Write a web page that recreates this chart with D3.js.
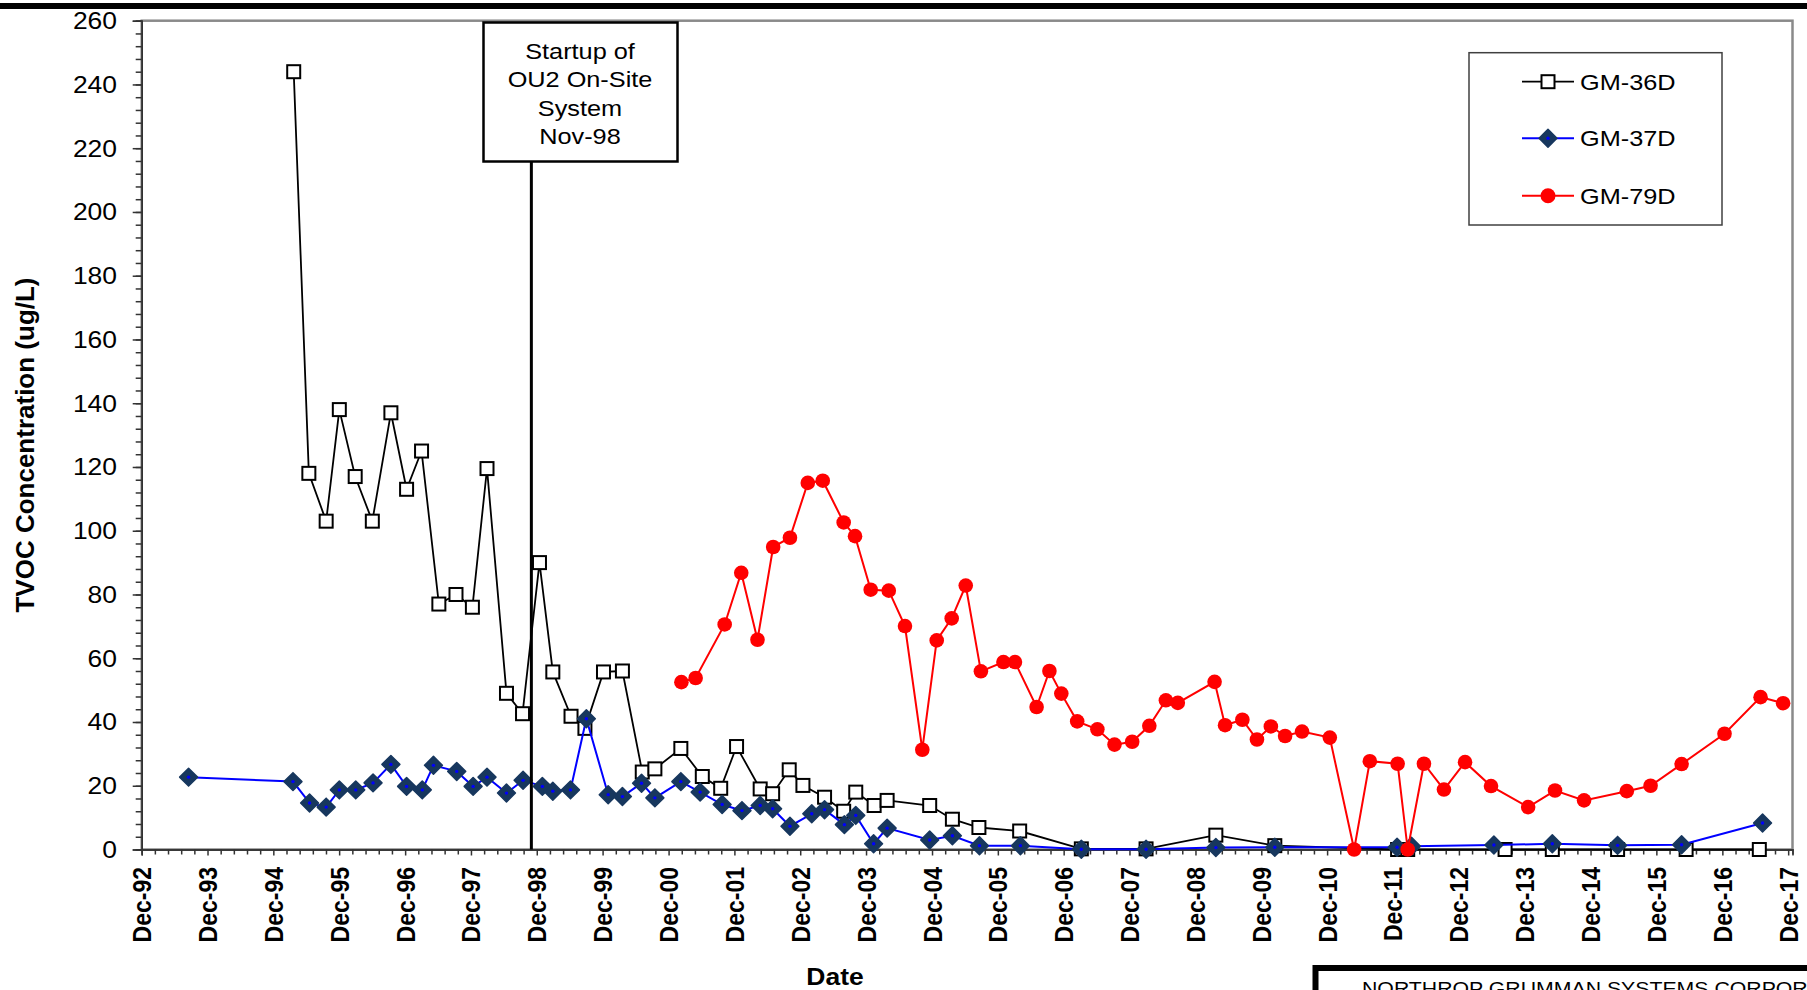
<!DOCTYPE html>
<meta charset="utf-8">
<head>
  <title>TVOC Concentration</title>
  <script src="https://d3js.org/d3.v7.min.js"></script>
  <style>
    body { margin: 0; background: #fff; }
    svg { display: block; font-family: "Liberation Sans", Arial, sans-serif; }
    .axis path, .axis line { stroke: #333; stroke-width: 1.5px; }
  </style>
</head>
<body>
<svg width="1807" height="990"></svg>
<script>
// sample dates / TVOC values (ug/L)
var gm36Dates = ["1995-03-24","1995-06-16","1995-09-20","1995-12-02","1996-02-28","1996-06-02","1996-09-13","1996-12-09",
  "1997-03-02","1997-06-06","1997-09-09","1997-12-09","1998-02-28","1998-06-16","1998-09-13","1998-12-16",
  "1999-02-28","1999-06-09","1999-08-25","1999-12-06","2000-03-20","2000-07-08","2000-09-16","2001-02-07",
  "2001-06-06","2001-09-16","2001-12-13","2002-04-23","2002-07-01","2002-10-01","2002-12-16","2003-04-15",
  "2003-07-30","2003-10-05","2004-01-15","2004-03-27","2004-11-18","2005-03-24","2005-08-18","2006-04-01",
  "2007-03-09","2008-03-02","2009-03-24","2010-02-14","2011-12-27","2012-02-21","2013-08-14","2014-05-03",
  "2015-04-30","2016-05-14","2017-06-24"];
var gm36Values = [244,118,103,138,117,103,137,113,125,77,80,76,119.5,49,42.6,90,55.7,41.8,38,55.7,56,24.3,25.3,31.7,
  22.9,19.2,32.3,19,17.5,25,20.1,16.4,12,18,13.8,15.4,13.8,9.5,6.9,5.8,0.2,0.2,4.5,1.2,0,0,0,0,0,0,0];

var gm37Dates = ["1993-08-18","1995-03-20","1995-06-20","1995-09-20","1995-12-02","1996-03-02","1996-06-06","1996-09-13",
  "1996-12-09","1997-03-06","1997-05-07","1997-09-13","1997-12-13","1998-02-28","1998-06-16","1998-09-16",
  "1999-01-01","1999-02-28","1999-06-06","1999-09-02","2000-01-01","2000-03-20","2000-07-04","2000-09-16",
  "2001-02-07","2001-05-25","2001-09-24","2002-01-12","2002-04-23","2002-07-01","2002-10-05","2003-02-03",
  "2003-04-15","2003-08-03","2003-10-05","2004-01-12","2004-03-27","2004-11-18","2005-03-24","2005-08-21",
  "2006-04-05","2007-03-09","2008-03-02","2009-03-24","2010-02-14","2011-12-24","2012-03-13","2013-06-13",
  "2014-05-03","2015-04-30","2016-04-19","2017-07-12"];
var gm37Values = [22.7,21.3,14.6,13.3,18.7,18.7,20.9,26.7,19.8,18.7,26.4,24.5,19.8,22.7,17.7,21.7,19.8,18.3,18.7,41,
  17.2,16.6,20.8,16.2,21.3,18,14.1,12.2,13.8,12.8,7.3,11.2,12.5,7.8,10.7,1.8,6.7,3,4.3,1.2,1.2,0.1,0.1,0.6,0.7,
  0.7,1,1.4,1.8,1.3,1.5,8.3];

var gm79Dates = ["2001-02-10","2001-04-30","2001-10-08","2002-01-08","2002-04-08","2002-07-04","2002-10-05","2003-01-12",
  "2003-04-05","2003-07-30","2003-10-01","2003-12-27","2004-04-05","2004-07-04","2004-10-08","2004-12-27",
  "2005-03-20","2005-06-06","2005-08-29","2006-01-01","2006-03-06","2006-07-04","2006-09-13","2006-11-18",
  "2007-02-14","2007-06-06","2007-09-09","2007-12-16","2008-03-20","2008-06-20","2008-08-25","2009-03-17",
  "2009-05-14","2009-08-18","2009-11-07","2010-01-23","2010-04-12","2010-07-15","2010-12-16","2011-04-30",
  "2011-07-26","2011-12-27","2012-02-21","2012-05-21","2012-09-09","2013-01-04","2013-05-28","2013-12-20",
  "2014-05-18","2014-10-26","2015-06-20","2015-10-30","2016-04-19","2016-12-13","2017-07-01","2017-11-03"];
var gm79Values = [52.5,53.8,70.6,86.8,65.8,94.9,97.8,115,115.7,102.6,98.3,81.5,81.2,70.1,31.3,65.6,72.5,82.8,55.9,
  58.8,58.8,44.7,56,48.9,40.2,37.7,32.9,33.8,38.8,46.8,46,52.6,39,40.7,34.5,38.6,35.6,37,35.1,0,27.7,26.9,0,
  26.9,18.8,27.4,19.9,13.3,18.5,15.4,18.3,20,26.8,36.3,47.8,45.9];

var seriesNames = ["GM-36D", "GM-37D", "GM-79D"];
var yTicks = d3.range(0, 261, 20);
var yMinorTicks = d3.range(0, 261, 4);
var tickYears = d3.range(1992, 2018);
var startupDate = "1998-11-01";
var startupLines = ["Startup of", "OU2 On-Site", "System", "Nov-98"];

var svg = d3.select("svg");
var plotL = 141.7, plotR = 1792.5, plotT = 20.7, plotB = 849.5;
var SX = 1.15; // text in the picture is a bit wider than tall

var parse = d3.timeParse("%Y-%m-%d");
var x = d3.scaleTime()
  .domain([new Date(1992, 11, 1), new Date(2017, 11, 25)])
  .range([plotL, plotR]);
var y = d3.scaleLinear().domain([0, 260]).range([plotB, plotT]);

var majorDates = tickYears.map(function(yr) { return new Date(yr, 11, 1); });
var minorDates = [];
majorDates.forEach(function(d, i) {
  if (i == majorDates.length - 1) return;
  var t0 = d.getTime(), t1 = majorDates[i + 1].getTime();
  for (var k = 1; k < 5; k++) minorDates.push(new Date(t0 + (t1 - t0) * k / 5));
});

function series(dates, values) {
  return dates.map(function(d, i) { return { date: parse(d), value: values[i] }; });
}
var s36 = series(gm36Dates, gm36Values),
    s37 = series(gm37Dates, gm37Values),
    s79 = series(gm79Dates, gm79Values);

// black strip across the top
svg.append("rect").attr("x", 0).attr("y", 3).attr("width", 1807).attr("height", 6).attr("fill", "#000");

// plot frame
svg.append("rect")
  .attr("x", plotL).attr("y", plotT)
  .attr("width", plotR - plotL).attr("height", plotB - plotT)
  .attr("fill", "#fff").attr("stroke", "#8a8a8a").attr("stroke-width", 2.5);

// axes
svg.append("g").attr("class", "axis")
  .attr("transform", "translate(" + plotL + ",0)")
  .call(d3.axisLeft(y).tickValues(yMinorTicks).tickSize(6).tickFormat(""));
svg.append("g").attr("class", "axis")
  .attr("transform", "translate(" + plotL + ",0)")
  .call(d3.axisLeft(y).tickValues(yTicks).tickSize(9).tickFormat(""));
svg.append("g").attr("class", "axis")
  .attr("transform", "translate(0," + plotB + ")")
  .call(d3.axisBottom(x).tickValues(minorDates).tickSize(5).tickFormat(""));
svg.append("g").attr("class", "axis")
  .attr("transform", "translate(0," + plotB + ")")
  .call(d3.axisBottom(x).tickValues(majorDates).tickSize(6).tickFormat(""));
svg.selectAll(".axis path").attr("stroke-width", 2);

svg.append("g").selectAll("text")
  .data(yTicks)
  .enter().append("text")
  .attr("transform", function(d) { return "translate(117," + y(d) + ") scale(" + SX + ",1)"; })
  .attr("text-anchor", "end")
  .attr("dy", "0.36em")
  .attr("font-size", 23)
  .text(function(d) { return d; });

var fmt = d3.timeFormat("%b-%y");
svg.append("g").selectAll("text")
  .data(majorDates)
  .enter().append("text")
  .attr("transform", function(d) { return "translate(" + x(d) + ",867) scale(" + SX + ",1) rotate(-90)"; })
  .attr("text-anchor", "end")
  .attr("dy", "0.36em")
  .attr("font-size", 23)
  .attr("font-weight", "bold")
  .text(fmt);

svg.append("text")
  .attr("transform", "translate(" + 835 + ",985) scale(" + SX + ",1)")
  .attr("text-anchor", "middle")
  .attr("font-size", 23).attr("font-weight", "bold")
  .text("Date");

svg.append("text")
  .attr("transform", "translate(25,445) rotate(-90)")
  .attr("text-anchor", "middle").attr("dy", "0.36em")
  .attr("font-size", 26).attr("font-weight", "bold")
  .text("TVOC Concentration (ug/L)");

var line = d3.line()
  .x(function(d) { return x(d.date); })
  .y(function(d) { return y(d.value); });

// GM-36D
svg.append("path").datum(s36).attr("d", line)
  .attr("fill", "none").attr("stroke", "#000").attr("stroke-width", 1.8);
svg.append("g").selectAll("rect")
  .data(s36)
  .enter().append("rect")
  .attr("x", function(d) { return x(d.date) - 6.5; })
  .attr("y", function(d) { return y(d.value) - 6.5; })
  .attr("width", 13).attr("height", 13)
  .attr("fill", "#fff").attr("stroke", "#000").attr("stroke-width", 2);

// GM-37D
var diamond = d3.symbol().type(d3.symbolSquare).size(160);
svg.append("path").datum(s37).attr("d", line)
  .attr("fill", "none").attr("stroke", "#0000ff").attr("stroke-width", 2);
var dg = svg.append("g").selectAll("g")
  .data(s37)
  .enter().append("g")
  .attr("transform", function(d) { return "translate(" + x(d.date) + "," + y(d.value) + ")"; });
dg.append("path").attr("d", diamond).attr("transform", "rotate(45)")
  .attr("fill", "#17375e").attr("stroke", "#17375e").attr("stroke-width", 1.5)
  .attr("stroke-linejoin", "round");
dg.append("circle").attr("r", 1.7).attr("fill", "#0000ff");

// GM-79D
svg.append("path").datum(s79).attr("d", line)
  .attr("fill", "none").attr("stroke", "#ff0000").attr("stroke-width", 2);
svg.append("g").selectAll("circle")
  .data(s79)
  .enter().append("circle")
  .attr("cx", function(d) { return x(d.date); })
  .attr("cy", function(d) { return y(d.value); })
  .attr("r", 7.3)
  .attr("fill", "#ff0000");

// startup annotation
var sx = x(parse(startupDate));
svg.append("line")
  .attr("x1", sx).attr("x2", sx).attr("y1", 161).attr("y2", plotB)
  .attr("stroke", "#000").attr("stroke-width", 3);
svg.append("rect")
  .attr("x", 483.5).attr("y", 22.5).attr("width", 194).attr("height", 139)
  .attr("fill", "#fff").attr("stroke", "#000").attr("stroke-width", 2.5);
svg.append("g").selectAll("text")
  .data(startupLines)
  .enter().append("text")
  .attr("transform", function(d, i) { return "translate(580," + (58.5 + i * 28.6) + ") scale(" + SX + ",1)"; })
  .attr("text-anchor", "middle")
  .attr("font-size", 22)
  .text(function(d) { return d; });

// legend
var legend = svg.append("g");
legend.append("rect")
  .attr("x", 1469).attr("y", 52.7).attr("width", 253).attr("height", 172.3)
  .attr("fill", "#fff").attr("stroke", "#404040").attr("stroke-width", 1.5);
var rowY = [81.7, 138.3, 195.7];
var lineColors = ["#000", "#0000ff", "#ff0000"];
var item = legend.selectAll("g.item")
  .data(seriesNames)
  .enter().append("g").attr("class", "item")
  .attr("transform", function(d, i) { return "translate(0," + rowY[i] + ")"; });
item.append("line")
  .attr("x1", 1522).attr("x2", 1574)
  .attr("stroke", function(d, i) { return lineColors[i]; })
  .attr("stroke-width", function(d, i) { return i ? 2 : 1.8; });
item.append("text")
  .attr("transform", "translate(1580,0) scale(" + SX + ",1)")
  .attr("dy", "0.36em")
  .attr("font-size", 22)
  .text(function(d) { return d; });
item.filter(function(d, i) { return i == 0; }).append("rect")
  .attr("x", 1548 - 6.5).attr("y", -6.5).attr("width", 13).attr("height", 13)
  .attr("fill", "#fff").attr("stroke", "#000").attr("stroke-width", 2);
var ld = item.filter(function(d, i) { return i == 1; }).append("g")
  .attr("transform", "translate(1548,0)");
ld.append("path").attr("d", diamond).attr("transform", "rotate(45)")
  .attr("fill", "#17375e").attr("stroke", "#17375e").attr("stroke-width", 1.5)
  .attr("stroke-linejoin", "round");
ld.append("circle").attr("r", 1.7).attr("fill", "#0000ff");
item.filter(function(d, i) { return i == 2; }).append("circle")
  .attr("cx", 1548).attr("r", 7.5).attr("fill", "#ff0000");

// title block, cut off at the bottom right
svg.append("rect")
  .attr("x", 1315.5).attr("y", 968).attr("width", 520).attr("height", 60)
  .attr("fill", "#fff").attr("stroke", "#000").attr("stroke-width", 6);
svg.append("text")
  .attr("transform", "translate(1362,995) scale(" + SX + ",1)")
  .attr("font-size", 18.5)
  .text("NORTHROP GRUMMAN SYSTEMS CORPORATION");
</script>
</body>
